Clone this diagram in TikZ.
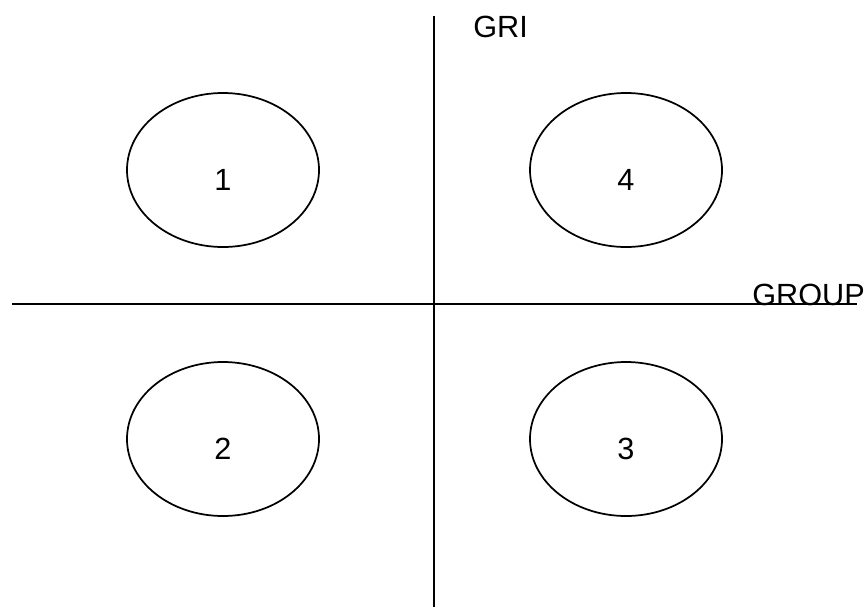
\documentclass[tikz,border=0pt]{standalone}
\usepackage{fontspec}
\setmainfont{Liberation Sans}
\usetikzlibrary{shapes.geometric}
\begin{document}
\begin{tikzpicture}[x=0.75pt,y=-0.75pt,
  axis/.style={line width=1.4pt,black},
  oval/.style={draw,ellipse,line width=1.3pt,minimum width=144pt,minimum height=115.5pt,inner sep=0pt},
  lbl/.style={anchor=base,inner sep=0pt,font=\fontsize{23}{27}\selectfont},
  axlbl/.style={anchor=base west,inner sep=0pt,font=\fontsize{23}{27}\selectfont}]
\useasboundingbox (0,0) rectangle (867,607);
\coordinate (hl) at (12,304);
\coordinate (hr) at (857,304);
\coordinate (vt) at (434,16);
\coordinate (vb) at (434,607);
\draw[axis] (hl) -- (hr);
\draw[axis] (vt) -- (vb);
\node[oval] (e1) at (223,170) {};
\node[oval] (e4) at (626,170) {};
\node[oval] (e2) at (223,439) {};
\node[oval] (e3) at (626,439) {};
\node[lbl] (t1) at (223,190) {1};
\node[lbl] (t4) at (626,190) {4};
\node[lbl] (t2) at (223,459) {2};
\node[lbl] (t3) at (626,459) {3};
\node[axlbl] (gri) at (473,37) {GRI};
\node[axlbl] (grp) at (752,305) {GROUP};
\end{tikzpicture}
\end{document}
